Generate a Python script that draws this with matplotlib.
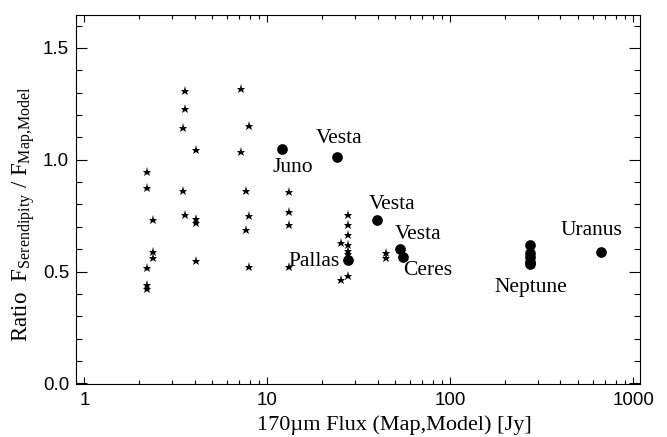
import matplotlib
matplotlib.use("Agg")
import matplotlib.pyplot as plt
from matplotlib.ticker import FixedLocator, NullFormatter, LogLocator

plt.rcParams['mathtext.fontset'] = 'custom'
plt.rcParams['mathtext.rm'] = 'Liberation Serif'
plt.rcParams['mathtext.it'] = 'Liberation Serif:italic'

# Serendipity sources (stars)
star_flux = [2.19, 2.19, 2.19, 2.19, 2.19,
             2.38, 2.38, 2.38,
             3.46, 3.46,
             3.56, 3.56, 3.56,
             4.05, 4.05, 4.05, 4.05,
             7.16, 7.16,
             7.66, 7.66,
             7.91, 7.91, 7.91,
             13.2, 13.2, 13.2, 13.2,
             25.2, 25.2,
             27.7, 27.7, 27.7, 27.7, 27.7, 27.7, 27.7,
             44.6, 44.6]
star_ratio = [0.943, 0.875, 0.516, 0.441, 0.422,
              0.731, 0.587, 0.560,
              1.141, 0.862,
              1.308, 1.225, 0.752,
              1.044, 0.733, 0.719, 0.546,
              1.316, 1.034,
              0.858, 0.687,
              1.151, 0.747, 0.522,
              0.856, 0.768, 0.707, 0.518,
              0.629, 0.461,
              0.753, 0.707, 0.664, 0.620, 0.593, 0.577, 0.480,
              0.584, 0.560]

# Planets / asteroids (circles)
obj_flux = [12.1, 24.0, 39.7, 27.7, 53.1, 55.2, 273.5, 273.5, 273.5, 273.5, 273.5, 668]
obj_ratio = [1.047, 1.010, 0.729, 0.550, 0.602, 0.567, 0.618, 0.584, 0.567, 0.544, 0.532, 0.587]

label_text = ["Vesta", "Juno", "Vesta", "Vesta", "Pallas", "Ceres", "Neptune", "Uranus"]
label_x = [24.7, 13.8, 48.0, 66.5, 24.9, 75.5, 275, 594]
label_y = [1.093, 0.963, 0.800, 0.664, 0.547, 0.506, 0.429, 0.684]
label_ha = ["center", "center", "center", "center", "right", "center", "center", "center"]

fig = plt.figure(figsize=(6.67, 4.37), dpi=100)
ax = fig.add_axes([76/667, 1-384/437, (640-76)/667, (384-15)/437])

ax.plot(star_flux, star_ratio, linestyle='none', marker='*', color='black', ms=6.5, mew=0)
ax.plot(obj_flux, obj_ratio, linestyle='none', marker='o', color='black', ms=7.7, mew=0)

for t, x, y, ha in zip(label_text, label_x, label_y, label_ha):
    ax.text(x, y, t, ha=ha, va='center', fontsize=15.5, family='Liberation Serif')

ax.set_xscale('log')
ax.set_xlim(0.9, 1088)
ax.set_ylim(-0.003, 1.647)

ax.xaxis.set_major_locator(FixedLocator([1, 10, 100, 1000]))
ax.xaxis.set_minor_locator(LogLocator(base=10, subs=range(2, 10)))
ax.xaxis.set_minor_formatter(NullFormatter())
ax.set_xticks([1, 10, 100, 1000])
ax.set_xticklabels(["1", "10", "100", "1000"])
ax.set_yticks([0.0, 0.5, 1.0, 1.5])
ax.set_yticklabels(["0.0", "0.5", "1.0", "1.5"])
ax.yaxis.set_minor_locator(FixedLocator([i/10 for i in range(0, 17)]))

for lab in ax.get_xticklabels() + ax.get_yticklabels():
    lab.set_family('Liberation Sans')
    lab.set_fontsize(13.5)

ax.tick_params(axis='both', which='both', direction='in', top=True, right=True, color='black', width=0.8)
ax.tick_params(axis='x', which='major', length=5.3, pad=6)
ax.tick_params(axis='x', which='minor', length=2.7)
ax.tick_params(axis='y', which='major', length=7.9, pad=5)
ax.tick_params(axis='y', which='minor', length=4.0)
for s in ax.spines.values():
    s.set_linewidth(0.8)

ax.set_xlabel("170\u00b5m Flux (Map,Model) [Jy]", family='Liberation Serif', fontsize=16)
ax.xaxis.set_label_coords(0.565, -0.085)
ax.set_ylabel(r"Ratio  F$_{\mathrm{Serendipity}}$ / F$_{\mathrm{Map{,}Model}}$", family='Liberation Serif', fontsize=16.5)
ax.yaxis.set_label_coords(-0.07, 0.46)

fig.savefig("out.png", dpi=100)
